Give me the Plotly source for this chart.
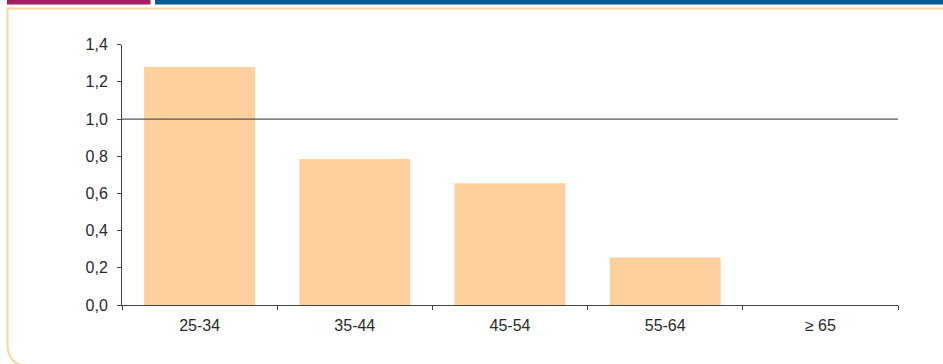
import plotly.graph_objects as go

categories = ["25-34", "35-44", "45-54", "55-64", "≥ 65"]
values = [1.28, 0.785, 0.655, 0.255, 0.0]
y_ticks = [0.0, 0.2, 0.4, 0.6, 0.8, 1.0, 1.2, 1.4]
y_ticktext = ["0,0", "0,2", "0,4", "0,6", "0,8", "1,0", "1,2", "1,4"]
reference_level = 1.0

W, H = 943, 364

def px(x):
    return x / W

def py(y):
    return 1 - y / H

fig = go.Figure()
fig.add_trace(go.Bar(
    x=categories, y=values,
    marker=dict(color="#FDD09E", line=dict(width=0)),
    hoverinfo="x+y",
))

shapes = [
    dict(type="rect", xref="paper", yref="paper", x0=px(7), x1=px(150.5), y0=py(4.5), y1=py(0),
         fillcolor="#A31E63", line=dict(width=0), layer="above"),
    dict(type="rect", xref="paper", yref="paper", x0=px(155), x1=px(943), y0=py(4.5), y1=py(0),
         fillcolor="#005B9A", line=dict(width=0), layer="above"),
    dict(type="line", xref="x domain", yref="y", x0=0, x1=1, y0=reference_level, y1=reference_level,
         line=dict(color="#555555", width=1.3), layer="above"),
]

r = 22
path = (f"M {px(945)},{py(8.5)} L {px(7.5)},{py(8.5)} L {px(7.5)},{py(366 - r)} "
        f"Q {px(7.5)},{py(366)} {px(7.5 + r)},{py(366)}")
shapes.append(dict(type="path", xref="paper", yref="paper", path=path,
                   line=dict(color="#F9D69C", width=2), layer="below"))

fig.update_layout(
    width=W, height=H,
    autosize=False,
    margin=dict(l=0, r=0, t=0, b=0, pad=0, autoexpand=False),
    paper_bgcolor="white", plot_bgcolor="white",
    showlegend=False,
    bargap=0.285,
    font=dict(family="Liberation Sans, Arial, sans-serif", size=16, color="#2a2a2a"),
    shapes=shapes,
    xaxis=dict(
        domain=[px(122), px(898)],
        range=[-0.5, 4.5],
        showline=True, linecolor="#444444", linewidth=1,
        ticks="outside", tickson="boundaries", ticklen=4, tickcolor="#444444",
        showgrid=False, zeroline=False,
        ticklabelstandoff=6,
        automargin=False,
        fixedrange=True,
    ),
    yaxis=dict(
        domain=[py(305), py(44.7)],
        range=[0, 1.4],
        tickvals=y_ticks, ticktext=y_ticktext,
        showline=True, linecolor="#444444", linewidth=1,
        ticks="outside", ticklen=4, tickcolor="#444444",
        showgrid=False, zeroline=False,
        ticklabelstandoff=6,
        automargin=False,
        fixedrange=True,
    ),
)

post = (
    "var gd=document.getElementById('{plot_id}');"
    "gd.style.position='fixed';gd.style.top='0px';gd.style.left='0px';"
    "document.body.style.margin='0';document.body.style.padding='0';"
    "document.body.style.overflow='hidden';"
    "document.documentElement.style.overflow='hidden';"
)

fig.write_html("out.html", config={"displayModeBar": False}, post_script=post)
